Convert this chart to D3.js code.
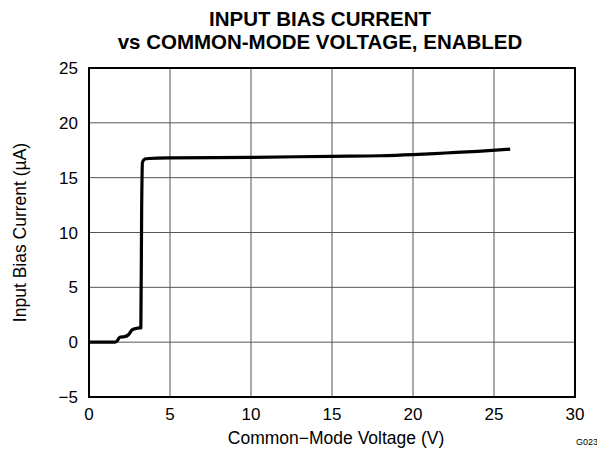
<!DOCTYPE html>
<html>
<head>
<meta charset="utf-8">
<script src="https://cdn.jsdelivr.net/npm/d3@7"></script>
<style>
  body { margin: 0; background: #fff; }
  text { font-family: "Liberation Sans", Arial, sans-serif; fill: #000; }
</style>
</head>
<body>
<script>
const WIDTH_SVG = 597;
const HEIGHT_SVG = 452;

// data
const voltage = [0, 1.6, 1.75, 1.9, 2.2, 2.45, 2.65, 2.9, 3.1, 3.2, 3.25, 3.3, 3.45, 3.7, 5, 10, 15, 18, 20, 22, 24, 26];
const current = [0, 0, 0.15, 0.45, 0.5, 0.7, 1.1, 1.25, 1.3, 1.3, 12, 16.4, 16.7, 16.75, 16.8, 16.85, 16.95, 17.0, 17.1, 17.25, 17.4, 17.6];
const xTicks = [0, 5, 10, 15, 20, 25, 30];
const yTicks = [-5, 0, 5, 10, 15, 20, 25];

const margin = { left: 89, right: 22, top: 68, bottom: 55 };

const svg = d3.select("body")
    .append("svg")
        .attr("width", WIDTH_SVG)
        .attr("height", HEIGHT_SVG);

const x = d3.scaleLinear().domain([0, 30]).range([margin.left, WIDTH_SVG - margin.right]);
const y = d3.scaleLinear().domain([-5, 25]).range([HEIGHT_SVG - margin.bottom, margin.top]);

// grid
svg.append("g")
    .selectAll("line")
    .data(xTicks)
    .join("line")
        .attr("x1", d => x(d)).attr("x2", d => x(d))
        .attr("y1", y(-5)).attr("y2", y(25))
        .attr("stroke", "#555").attr("stroke-width", 1);

svg.append("g")
    .selectAll("line")
    .data(yTicks)
    .join("line")
        .attr("x1", x(0)).attr("x2", x(30))
        .attr("y1", d => y(d)).attr("y2", d => y(d))
        .attr("stroke", "#555").attr("stroke-width", 1);

// tick labels
svg.append("g")
    .selectAll("text")
    .data(xTicks)
    .join("text")
        .attr("x", d => x(d))
        .attr("y", y(-5) + 23)
        .attr("text-anchor", "middle")
        .style("font-size", "17px")
        .text(d => d);

svg.append("g")
    .selectAll("text")
    .data(yTicks)
    .join("text")
        .attr("x", x(0) - 11)
        .attr("y", d => y(d) + 6)
        .attr("text-anchor", "end")
        .style("font-size", "17px")
        .text(d => d < 0 ? "\u2212" + Math.abs(d) : d);

// curve
const line = d3.line()
    .x((d, i) => x(voltage[i]))
    .y(d => y(d))
    .curve(d3.curveMonotoneX);

svg.append("path")
    .datum(current)
    .attr("d", line)
    .attr("fill", "none")
    .attr("stroke", "#000")
    .attr("stroke-width", 3.2)
    .attr("stroke-linejoin", "round");

// frame
svg.append("rect")
    .attr("x", x(0)).attr("y", y(25))
    .attr("width", x(30) - x(0))
    .attr("height", y(-5) - y(25))
    .attr("fill", "none")
    .attr("stroke", "#000")
    .attr("stroke-width", 2);

// titles
svg.append("text")
    .attr("x", 320).attr("y", 26)
    .attr("text-anchor", "middle")
    .style("font-size", "20.5px").style("font-weight", "bold")
    .text("INPUT BIAS CURRENT");
svg.append("text")
    .attr("x", 320).attr("y", 49)
    .attr("text-anchor", "middle")
    .style("font-size", "20.5px").style("font-weight", "bold")
    .text("vs COMMON-MODE VOLTAGE, ENABLED");

svg.append("text")
    .attr("x", 336).attr("y", 444)
    .attr("text-anchor", "middle")
    .style("font-size", "17.5px")
    .text("Common\u2212Mode Voltage (V)");

svg.append("text")
    .attr("transform", `translate(26, ${(y(-5) + y(25)) / 2}) rotate(-90)`)
    .attr("text-anchor", "middle")
    .style("font-size", "17.5px")
    .text("Input Bias Current (\u00B5A)");

svg.append("text")
    .attr("x", 576).attr("y", 445)
    .style("font-size", "9px")
    .text("G023");
</script>
</body>
</html>
